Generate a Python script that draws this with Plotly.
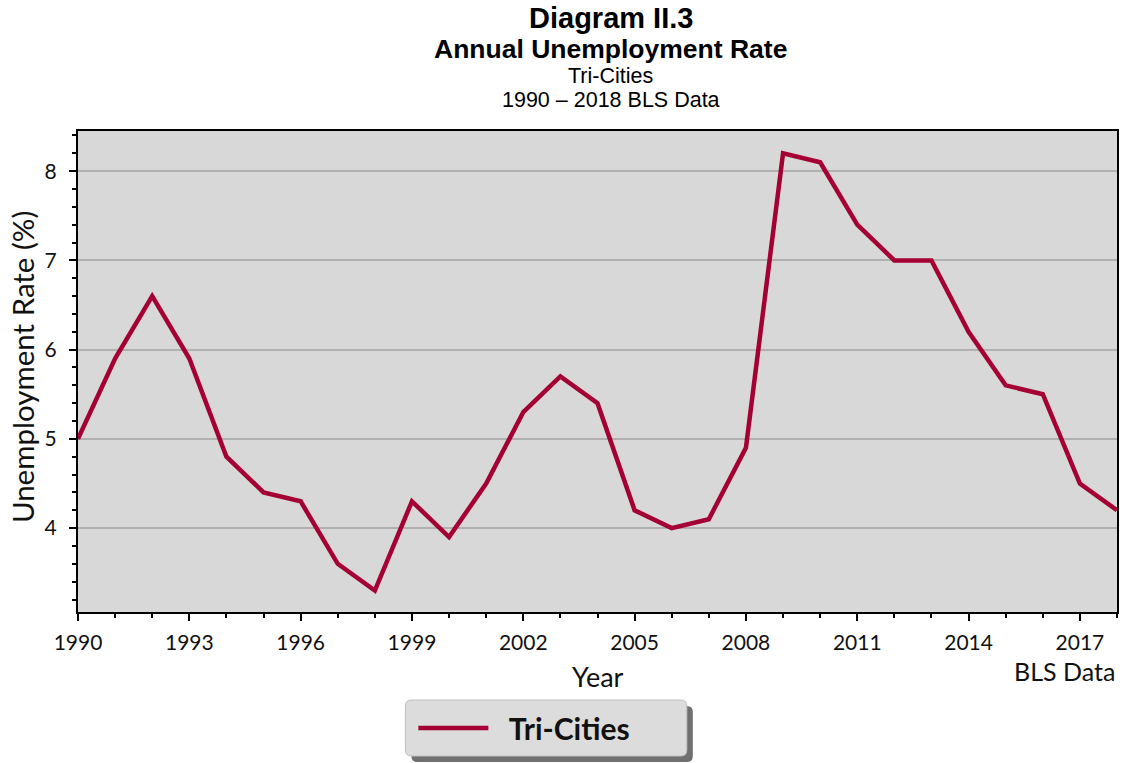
import plotly.graph_objects as go

years = list(range(1990, 2019))
rates = [5.0, 5.9, 6.6, 5.9, 4.8, 4.4, 4.3, 3.6, 3.3, 4.3, 3.9, 4.5, 5.3, 5.7, 5.4,
         4.2, 4.0, 4.1, 4.9, 8.2, 8.1, 7.4, 7.0, 7.0, 6.2, 5.6, 5.5, 4.5, 4.2]
series_name = "Tri-Cities"
x_ticks = list(range(1990, 2019, 3))
y_ticks = [4, 5, 6, 7, 8]

W, H = 1123, 763
L, R, T, B = 78, 4, 131, 151
PW, PH = W - L - R, H - T - B


def px(x):
    return (x - L) / PW


def py(y):
    return (H - B - y) / PH


def rrect(x0, y0, x1, y1, r):
    a, b, c, d = px(x0), py(y0), px(x1), py(y1)
    rx, ry = r / PW, r / PH
    return (f"M {a+rx},{b} L {c-rx},{b} Q {c},{b} {c},{b-ry} L {c},{d+ry} Q {c},{d} {c-rx},{d} "
            f"L {a+rx},{d} Q {a},{d} {a},{d+ry} L {a},{b-ry} Q {a},{b} {a+rx},{b} Z")


fig = go.Figure()
fig.add_trace(go.Scatter(x=years, y=rates, mode="lines",
                         name="&nbsp;&nbsp;<b>" + series_name + "</b>",
                         line=dict(color="#a50033", width=4.5)))

axfont = "Lato, 'Noto Sans', sans-serif"
tfont = "'Liberation Sans', Arial, sans-serif"


def ann(text, x, y, family, size, **kw):
    d = dict(text=text, x=x, y=y, xref="paper", yref="paper", showarrow=False,
             xanchor="center", yanchor="middle",
             font=dict(family=family, size=size, color="black" if family == tfont else "#111"))
    d.update(kw)
    return d


fig.update_layout(
    width=W, height=H,
    margin=dict(l=L, r=R, t=T, b=B),
    paper_bgcolor="white", plot_bgcolor="#d8d8d8",
    showlegend=True,
    legend=dict(orientation="h", xanchor="left", x=px(414), yanchor="middle", y=py(728),
                bgcolor="rgba(0,0,0,0)", borderwidth=0,
                font=dict(family=axfont, size=30, color="#111"), itemwidth=70),
    xaxis=dict(range=[1990, 2018], tickvals=x_ticks, ticks="outside", ticklen=7, tickwidth=1.5,
               tickcolor="black", showline=True, linecolor="black", linewidth=2, mirror=True,
               showgrid=False, zeroline=False, ticklabelstandoff=4,
               minor=dict(dtick=1, ticks="outside", ticklen=4, tickcolor="black", tickwidth=1.5),
               tickfont=dict(family=axfont, size=21, color="#111")),
    yaxis=dict(range=[3.06, 8.45], tickvals=y_ticks, ticks="outside", ticklen=7, tickwidth=1.5,
               tickcolor="black", showline=True, linecolor="black", linewidth=2, mirror=True,
               showgrid=True, gridcolor="#b0b0b0", gridwidth=2, zeroline=False,
               ticklabelstandoff=8,
               minor=dict(dtick=0.2, tick0=0, ticks="outside", ticklen=4, tickcolor="black",
                          tickwidth=1.5, showgrid=False),
               tickfont=dict(family=axfont, size=21, color="#111")),
    shapes=[
        dict(type="path", xref="paper", yref="paper", path=rrect(412, 706, 694, 762, 6),
             fillcolor="#707070", line=dict(width=0), layer="above"),
        dict(type="path", xref="paper", yref="paper", path=rrect(406, 700, 688, 756, 6),
             fillcolor="#dcdcdc", line=dict(color="#c0c0c0", width=1), layer="above"),
    ],
    annotations=[
        ann("<b>Diagram II.3</b>", px(612), py(18), tfont, 29),
        ann("<b>Annual Unemployment Rate</b>", px(612), py(49), tfont, 26.5),
        ann("Tri-Cities", px(612), py(76), tfont, 21.5),
        ann("1990 – 2018 BLS Data", px(612), py(100), tfont, 21.5),
        ann("Year", px(599), py(676), axfont, 27),
        ann("BLS Data", 1.0, py(671), axfont, 25, xanchor="right"),
        ann("Unemployment Rate (%)", px(22), py(367), axfont, 29.5, textangle=-90),
    ],
)

fig.write_html("out.html", post_script="document.body.style.margin='0px';",
               config={"displayModeBar": False})
